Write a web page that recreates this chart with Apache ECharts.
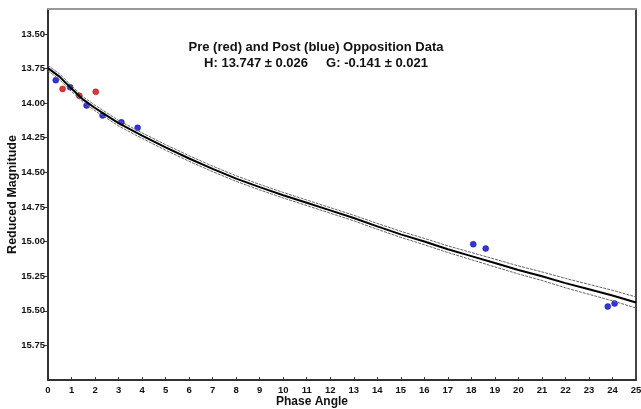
<!DOCTYPE html>
<html>
<head>
<meta charset="utf-8">
<script src="https://cdn.jsdelivr.net/npm/echarts@6/dist/echarts.min.js"></script>
<style>html,body{margin:0;padding:0;background:#fff;}#c{width:641px;height:409px;}</style>
</head>
<body>
<div id="c"></div>
<script>
// Observed data: phase angle (deg), reduced magnitude
const preAngle = [0.62, 1.33, 2.03];
const preMag   = [13.897, 13.947, 13.918];
const postAngle = [0.33, 0.94, 1.64, 2.32, 3.12, 3.81, 18.08, 18.61, 23.80, 24.09];
const postMag   = [13.834, 13.885, 14.017, 14.089, 14.138, 14.178, 15.019, 15.050, 15.469, 15.447];
// Fitted curve and its error band
const fitAngle = [0, 0.5, 1, 1.5, 2, 2.5, 3, 3.5, 4, 5, 6, 7, 8, 9, 10, 11, 12, 13, 14, 15, 16, 17, 18, 19, 20, 21, 22, 23, 24, 25];
const fitMag   = [13.747, 13.81, 13.895, 13.975, 14.035, 14.09, 14.145, 14.19, 14.235, 14.32, 14.40, 14.475, 14.545, 14.607, 14.665, 14.72, 14.775, 14.83, 14.89, 14.948, 15.00, 15.055, 15.105, 15.155, 15.205, 15.25, 15.30, 15.345, 15.39, 15.44];
const fitUpper = [13.727, 13.79, 13.875, 13.955, 14.015, 14.07, 14.125, 14.17, 14.215, 14.30, 14.38, 14.455, 14.525, 14.587, 14.645, 14.70, 14.755, 14.81, 14.869, 14.926, 14.977, 15.031, 15.079, 15.127, 15.176, 15.219, 15.266, 15.309, 15.352, 15.40];
const fitLower = [13.767, 13.83, 13.915, 13.995, 14.055, 14.11, 14.165, 14.21, 14.255, 14.34, 14.42, 14.495, 14.565, 14.627, 14.685, 14.74, 14.795, 14.85, 14.911, 14.970, 15.023, 15.079, 15.131, 15.183, 15.234, 15.281, 15.334, 15.381, 15.428, 15.48];
const yTicks = [13.50, 13.75, 14.00, 14.25, 14.50, 14.75, 15.00, 15.25, 15.50, 15.75];
const titleLine1 = 'Pre (red) and Post (blue) Opposition Data';
const titleLine2 = 'H: 13.747 \u00b1 0.026     G: -0.141 \u00b1 0.021';

const zip = (a, b) => a.map((v, i) => [v, b[i]]);
const font = 'Liberation Sans, Arial, sans-serif';

const chart = echarts.init(document.getElementById('c'), null, {renderer: 'canvas'});
chart.setOption({
  backgroundColor: '#ffffff',
  animation: false,
  grid: {left: 48, top: 9, right: 5, bottom: 29, containLabel: false, outerBoundsMode: 'none'},
  title: [
    {text: titleLine1, left: 311, top: 36, textAlign: 'center',
     textStyle: {fontFamily: font, fontSize: 13, fontWeight: 'bold', color: '#111'}},
    {text: titleLine2, left: 311, top: 52, textAlign: 'center',
     textStyle: {fontFamily: font, fontSize: 13, fontWeight: 'bold', color: '#111'}}
  ],
  graphic: [
    {type: 'text', left: 276, top: 396,
     style: {text: 'Phase Angle', font: 'bold 12px ' + font, fill: '#111'}}
  ],
  xAxis: [
    {type: 'value', min: 0, max: 25, interval: 1, position: 'bottom',
     axisLine: {show: true, lineStyle: {color: '#333', width: 2}},
     axisTick: {show: true, inside: true, length: 3, lineStyle: {color: '#333', width: 1}},
     axisLabel: {fontFamily: font, fontSize: 9.5, fontWeight: 'bold', color: '#111', margin: 5},
     splitLine: {show: false}},
    {type: 'value', min: 0, max: 25, position: 'top',
     axisLine: {show: true, onZero: false, lineStyle: {color: '#9a9a9a', width: 2}},
     axisTick: {show: false}, axisLabel: {show: false}, splitLine: {show: false}}
  ],
  yAxis: [
    {type: 'value', min: 13.32, max: 16.0, inverse: true, position: 'left',
     name: 'Reduced Magnitude', nameLocation: 'middle', nameGap: 29, nameMoveOverlap: false,
     nameTextStyle: {fontFamily: font, fontSize: 12.5, fontWeight: 'bold', color: '#111'},
     axisLine: {show: true, lineStyle: {color: '#333', width: 2}},
     axisTick: {show: true, length: 4, customValues: yTicks, lineStyle: {color: '#333', width: 1}},
     axisLabel: {fontFamily: font, fontSize: 9.5, fontWeight: 'bold', color: '#111', margin: 3,
       customValues: yTicks, formatter: v => v.toFixed(2)},
     splitLine: {show: false}},
    {type: 'value', min: 13.32, max: 16.0, inverse: true, position: 'right',
     axisLine: {show: true, onZero: false, lineStyle: {color: '#444', width: 2}},
     axisTick: {show: false}, axisLabel: {show: false}, splitLine: {show: false}}
  ],
  series: [
    {type: 'line', data: zip(fitAngle, fitUpper), showSymbol: false,
     lineStyle: {color: '#666', width: 1, type: [3, 1]}, silent: true},
    {type: 'line', data: zip(fitAngle, fitLower), showSymbol: false,
     lineStyle: {color: '#666', width: 1, type: [3, 1]}, silent: true},
    {type: 'line', data: zip(fitAngle, fitMag), showSymbol: false,
     lineStyle: {color: '#000', width: 2}, silent: true},
    {type: 'scatter', data: zip(preAngle, preMag), symbol: 'circle', symbolSize: 6,
     itemStyle: {color: '#e00000', borderColor: '#800000', borderWidth: 0.5}},
    {type: 'scatter', data: zip(postAngle, postMag), symbol: 'circle', symbolSize: 6,
     itemStyle: {color: '#0000dd', borderColor: '#000080', borderWidth: 0.5}}
  ]
});
</script>
</body>
</html>
